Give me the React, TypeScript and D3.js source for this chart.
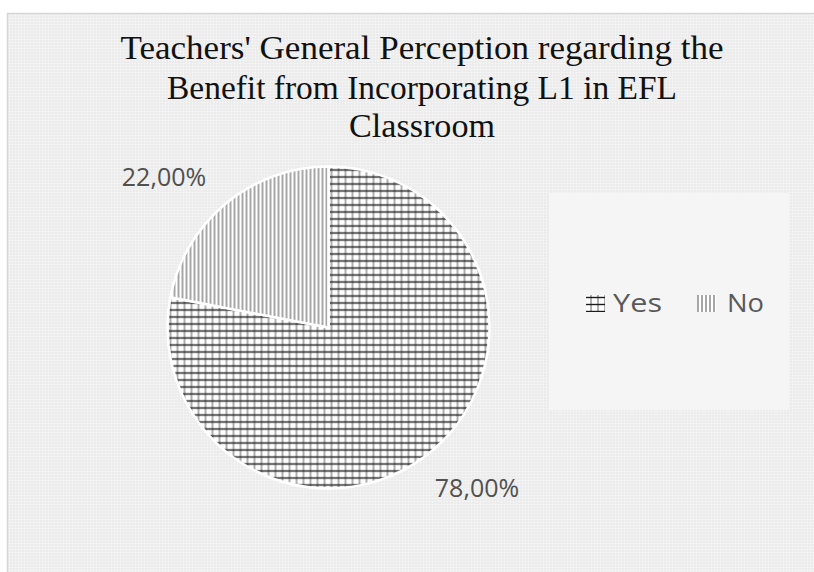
import React from "react";
import * as d3 from "d3";

const categories = ["Yes", "No"];
const values = [78, 22];
const labels = ["78,00%", "22,00%"];
const titleLines = [
  "Teachers' General Perception regarding the",
  "Benefit from Incorporating L1 in EFL",
  "Classroom",
];

export default function App() {
  const W = 814, H = 572;
  const cx = 328.5, cy = 327.5, r = 161;
  const pie = d3.pie<number>().sort(null).value((d) => d);
  const arcs = pie(values);
  const arc = d3.arc<d3.PieArcDatum<number>>().innerRadius(0).outerRadius(r);
  const patIds = ["pYes", "pNo"];
  const labelPos = [
    { x: 477, y: 497 },
    { x: 164, y: 186 },
  ];
  const titleWidths = [603, 510, 146];
  const titleY = [59, 99, 137];
  const legendItems = [
    { sx: 586, tx: 613, w: 49 },
    { sx: 697, tx: 727, w: 37 },
  ];
  return (
    <svg
      width={W}
      height={H}
      style={{ position: "absolute", left: 0, top: 0 }}
    >
      <defs>
        <pattern id="pYes" patternUnits="userSpaceOnUse" width={7} height={7}>
          <rect width={7} height={7} fill="#ffffff" />
          <line x1={3} x2={3} y1={0} y2={7} stroke="#9a9a9a" strokeWidth={1.6} />
          <line x1={0} x2={7} y1={3.5} y2={3.5} stroke="#1a1a1a" strokeWidth={1.4} />
        </pattern>
        <pattern id="pNo" patternUnits="userSpaceOnUse" width={4} height={4}>
          <rect width={4} height={4} fill="#ffffff" />
          <line x1={2} x2={2} y1={0} y2={4} stroke="#8a8a8a" strokeWidth={1.5} />
        </pattern>
        <pattern id="bgTex" patternUnits="userSpaceOnUse" width={3} height={3}>
          <rect width={3} height={3} fill="#efefef" />
          <rect x={0} y={0} width={1} height={1} fill="#f7f7f7" />
          <rect x={1.5} y={1.5} width={1} height={1} fill="#e6e6e6" />
        </pattern>
      </defs>
      <rect x={0} y={0} width={W} height={H} fill="#ffffff" />
      <rect
        x={7.5}
        y={13.5}
        width={W + 20}
        height={H + 20}
        fill="url(#bgTex)"
        stroke="#d6d6d6"
        strokeWidth={1.5}
      />
      {titleLines.map((t, i) => (
        <text
          key={i}
          x={422}
          y={titleY[i]}
          textAnchor="middle"
          fontFamily="Liberation Serif, serif"
          fontSize={33}
          fill="#111"
          textLength={titleWidths[i]}
          lengthAdjust="spacingAndGlyphs"
        >
          {t}
        </text>
      ))}
      <g transform={`translate(${cx},${cy})`}>
        {arcs.map((a, i) => (
          <path
            key={i}
            d={arc(a) || ""}
            fill={`url(#${patIds[i]})`}
            stroke="#ffffff"
            strokeWidth={2.5}
          />
        ))}
      </g>
      {labels.map((l, i) => (
        <text
          key={i}
          x={labelPos[i].x}
          y={labelPos[i].y}
          textAnchor="middle"
          fontFamily="Open Sans, sans-serif"
          fontSize={25}
          fill="#505050"
        >
          {l}
        </text>
      ))}
      <rect x={549} y={193} width={240} height={217} fill="#f5f5f5" />
      {categories.map((c, i) => (
        <g key={c}>
          <rect
            x={legendItems[i].sx}
            y={295}
            width={19}
            height={17}
            fill={`url(#${patIds[i]})`}
          />
          <text
            x={legendItems[i].tx}
            y={312}
            fontFamily="Open Sans, sans-serif"
            fontSize={26}
            fill="#595959"
            textLength={legendItems[i].w}
            lengthAdjust="spacingAndGlyphs"
          >
            {c}
          </text>
        </g>
      ))}
    </svg>
  );
}
